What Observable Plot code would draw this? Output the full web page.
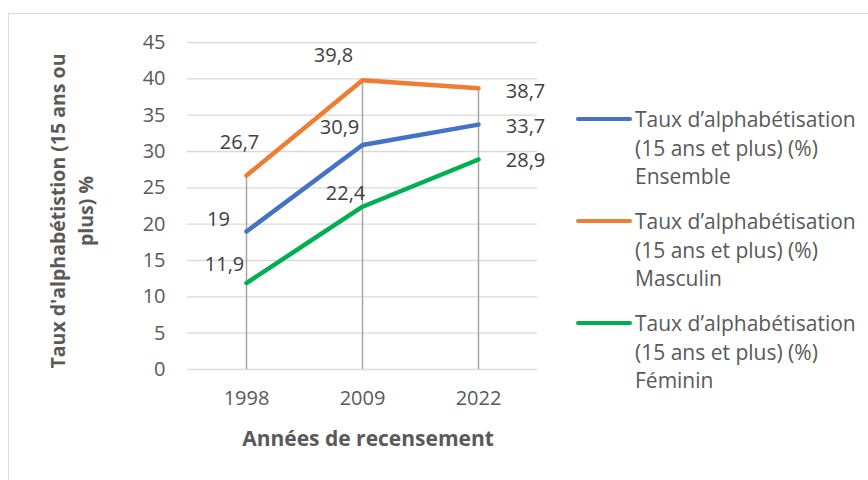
<!DOCTYPE html>
<html>
<head>
<meta charset="utf-8">
<script src="https://cdn.jsdelivr.net/npm/d3@7"></script>
<script src="https://cdn.jsdelivr.net/npm/@observablehq/plot@0.6"></script>
<style>
  html, body { margin: 0; padding: 0; background: #fff; }
  #wrap { position: relative; width: 868px; height: 480px; overflow: hidden; font-family: "Open Sans", Lato, sans-serif; color: #595959; }
  #frame { position: absolute; left: 8px; top: 13px; width: 900px; height: 500px; border: 1px solid #d9d9d9; box-sizing: border-box; }
  #chart { position: absolute; left: 0; top: 0; }
  .ytitle { position: absolute; left: 72px; top: 211px; transform: translate(-50%, -50%) rotate(-90deg); white-space: nowrap; text-align: center; font-weight: bold; font-size: 19.5px; line-height: 28px; }
  .xtitle { position: absolute; left: 368px; top: 438px; transform: translate(-50%, -50%); white-space: nowrap; font-weight: bold; font-size: 21px; }
  .legend { position: absolute; left: 576px; top: 0; }
  .item { position: absolute; left: 0; width: 292px; }
  .item .sw { position: absolute; left: 0; width: 56px; height: 4px; border-radius: 2px; }
  .item .lbl { position: absolute; left: 59px; top: 0; font-size: 21px; line-height: 28.5px; white-space: nowrap; }
</style>
</head>
<body>
<div id="wrap">
  <div id="frame"></div>
  <div id="chart"></div>
</div>
<script>
const years = ["1998", "2009", "2022"];
const ensemble = [19, 30.9, 33.7];
const masculin = [26.7, 39.8, 38.7];
const feminin = [11.9, 22.4, 28.9];
const seriesNames = ["Ensemble", "Masculin", "Féminin"];
const seriesColors = ["#4472C4", "#ED7D31", "#00B050"];
const legendPrefix = "Taux d\u2019alphabétisation\n(15 ans et plus) (%)";
const yTicks = [0, 5, 10, 15, 20, 25, 30, 35, 40, 45];
const yTitle = "Taux d'alphabétistion (15 ans ou\nplus) %";
const xTitle = "Années de recensement";
// label offsets (dx, dy) per series per year
const labelOffsets = [
  [[-28, -12], [-23, -17], [47, 2]],
  [[-7, -33], [-29, -25], [47, 3]],
  [[-22, -18], [-17, -13], [47, 1]]
];

const allSeries = [ensemble, masculin, feminin];
const rows = [];
allSeries.forEach((vals, s) => vals.forEach((v, i) => rows.push({serie: seriesNames[s], year: years[i], value: v, s, i})));
const maxima = years.map((y, i) => ({year: y, top: d3.max(allSeries, a => a[i])}));

const fmt = v => String(v).replace(".", ",");

const labelMarks = rows.map(r => Plot.text([r], {
  x: "year", y: "value", text: d => fmt(d.value),
  dx: labelOffsets[r.s][r.i][0], dy: labelOffsets[r.s][r.i][1],
  fill: "#404040", fontSize: 20, textAnchor: "middle"
}));

const chart = Plot.plot({
  width: 868, height: 480,
  marginLeft: 187, marginRight: 331, marginTop: 42, marginBottom: 111,
  style: {fontFamily: "'Open Sans', Lato, sans-serif", fontSize: "20px", color: "#595959", background: "transparent", overflow: "visible"},
  x: {type: "point", domain: years, padding: 0.5, label: null},
  y: {domain: [0, 45], label: null},
  color: {domain: seriesNames, range: seriesColors},
  marks: [
    Plot.gridY(yTicks, {stroke: "#d9d9d9", strokeOpacity: 1, strokeWidth: 1.3}),
    Plot.axisY(yTicks, {tickSize: 0, tickPadding: 22, fill: "#595959", fontSize: 20, label: null}),
    Plot.axisX(years, {tickSize: 0, tickPadding: 21, fill: "#595959", fontSize: 20, label: null}),
    Plot.ruleX(maxima, {x: "year", y1: 0, y2: "top", stroke: "#a6a6a6", strokeWidth: 1.5}),
    Plot.line(rows, {x: "year", y: "value", z: "serie", stroke: "serie", strokeWidth: 4.5, strokeLinecap: "round", strokeLinejoin: "round"}),
    ...labelMarks
  ]
});
document.getElementById("chart").appendChild(chart);

const wrap = document.getElementById("wrap");
const yt = document.createElement("div");
yt.className = "ytitle";
yt.innerHTML = yTitle.split("\n").join("<br>");
wrap.appendChild(yt);
const xt = document.createElement("div");
xt.className = "xtitle";
xt.textContent = xTitle;
wrap.appendChild(xt);

const legend = document.createElement("div");
legend.className = "legend";
const legendTops = [105, 207, 309];
seriesNames.forEach((name, s) => {
  const it = document.createElement("div");
  it.className = "item";
  it.style.top = legendTops[s] + "px";
  const sw = document.createElement("div");
  sw.className = "sw";
  sw.style.top = "12px";
  sw.style.background = seriesColors[s];
  const lb = document.createElement("div");
  lb.className = "lbl";
  lb.innerHTML = (legendPrefix + "\n" + name).split("\n").join("<br>");
  it.appendChild(sw); it.appendChild(lb);
  legend.appendChild(it);
});
wrap.appendChild(legend);
</script>
</body>
</html>
